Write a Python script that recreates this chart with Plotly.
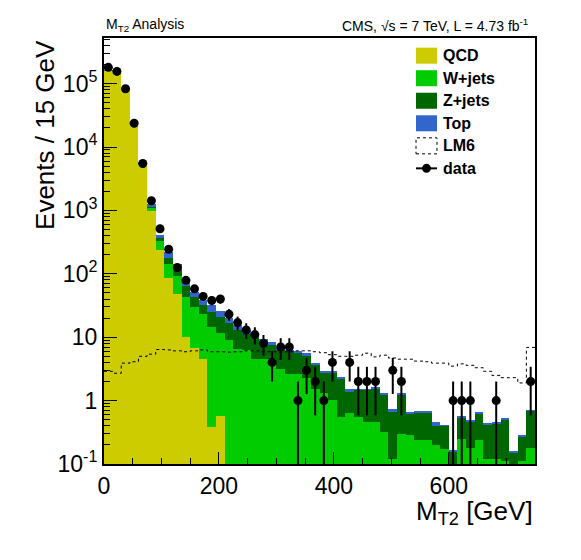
import numpy as np
import plotly.graph_objects as go

# MT2 distribution, 15 GeV bins from 0 to 750 GeV
bin_edges = np.arange(0, 751, 15)
bin_centers = bin_edges[:-1] + 7.5

qcd = [160000, 145000, 84000, 23000, 5300, 990, 237, 87, 48, 10.2,
       6.7, 4.5, 0.38, 0.58, 0, 0, 0, 0, 0, 0,
       0, 0, 0, 0, 0, 0, 0, 0, 0, 0,
       0, 0, 0, 0, 0, 0, 0, 0, 0, 0,
       0, 0, 0, 0, 0, 0, 0, 0, 0, 0]
wjets = [150, 300, 350, 350, 280, 130, 104, 56, 43, 33,
         23, 18.5, 13.9, 11.1, 9.0, 6.5, 6.4, 4.6, 4.6, 4.6,
         3.2, 2.6, 2.6, 2.3, 1.5, 1.3, 1.02, 0.56, 0.63, 0.56,
         0.46, 0.46, 0.32, 0.12, 0.30, 0.29, 0.24, 0.24, 0.20, 0.17,
         0, 0.25, 0.18, 0.24, 0.12, 0.12, 0.11, 0, 0.11, 0.18]
zjets = [40, 80, 100, 100, 80, 20, 22, 33, 25, 20,
         13, 9, 10.7, 9.3, 8, 6.5, 5.0, 5.0, 4.0, 2.9,
         3.1, 3.3, 3.2, 2.8, 2.1, 1.5, 1.78, 1.64, 0.75, 0.91,
         1.01, 1.10, 0.94, 0.56, 0.94, 0.34, 0.42, 0.42, 0.20, 0.23,
         0.153, 0.30, 0.28, 0.39, 0.30, 0.32, 0.40, 0.148, 0.16, 0.51]
top = [60, 120, 150, 160, 140, 110, 54, 43, 26, 15,
       9, 7, 7, 5, 3, 2.5, 1.6, 1.4, 0.9, 1.0,
       0.6, 0.4, 0.3, 0.5, 0.3, 0.1, 0.1, 0.1, 0.12, 0.03,
       0.03, 0.04, 0.04, 0.05, 0.04, 0.03, 0.01, 0.01, 0.06, 0.01,
       0.013, 0.01, 0.03, 0.01, 0.01, 0.01, 0.01, 0.012, 0.02, 0.01]
lm6 = [2.9, 2.7, 3.9, 4.1, 5.0, 5.4, 6.4, 6.3, 6.1, 5.9,
       6.1, 6.3, 5.9, 5.9, 5.8, 5.9, 6.1, 6.1, 5.9, 5.9,
       5.8, 5.9, 6.1, 6.1, 5.9, 5.7, 5.3, 5.0, 5.0, 5.2,
       5.6, 4.9, 5.2, 4.7, 4.5, 4.5, 4.2, 4.1, 3.9, 3.9,
       3.5, 3.8, 3.6, 3.3, 2.9, 2.5, 2.3, 2.3, 1.9, 6.9]
data = [181000, 156000, 83000, 23700, 5500, 1420, 515, 244, 126, 79,
        58, 44, 38, 40, 23, 17, 13, 11, 8, 4,
        7, 7, 1, 3, 2, 1, 4, 0, 4, 2,
        2, 2, 0, 3, 2, 0, 0, 0, 0, 0,
        1, 1, 1, 0, 0, 1, 0, 0, 0, 2]

samples = ["QCD", "W+jets", "Z+jets", "Top"]
sample_values = [qcd, wjets, zjets, top]
sample_colors = ["#cccc00", "#00cc00", "#006600", "#3366cc"]

FONT = "Liberation Sans, Arial, Helvetica, sans-serif"

fig = go.Figure()

for name, vals, col in zip(samples, sample_values, sample_colors):
    fig.add_trace(go.Bar(
        x=bin_centers, y=vals, width=15, name=name,
        marker=dict(color=col, line=dict(width=0)),
        showlegend=False,
    ))

# LM6 signal as a dotted step line
fig.add_trace(go.Scatter(
    x=bin_edges, y=lm6 + [lm6[-1]], mode="lines",
    line=dict(color="black", width=1, dash="dot", shape="hv"),
    showlegend=False,
))

# data points with poisson errors, empty bins not drawn
n = np.array(data, dtype=float)
err = np.sqrt(n)
err_lo = np.minimum(err, n * 0.999)
y_data = np.where(n > 0, n, np.nan)
fig.add_trace(go.Scatter(
    x=bin_centers, y=y_data, mode="markers",
    marker=dict(color="black", size=9),
    error_y=dict(type="data", array=err, arrayminus=err_lo,
                 color="black", thickness=2, width=0),
    showlegend=False,
))

# legend drawn by hand, ROOT style
legend_labels = ["QCD", "W+jets", "Z+jets", "Top", "LM6", "data"]
lx0, lx1, ltx = 0.7239, 0.7726, 0.7819
ly, lstep, lh = 0.9585, 0.0529, 0.0188
shapes = []
annotations = []
for i, lab in enumerate(legend_labels):
    yc = ly - i * lstep
    if i < 4:
        shapes.append(dict(type="rect", xref="paper", yref="paper",
                           x0=lx0, x1=lx1, y0=yc - lh, y1=yc + lh,
                           fillcolor=sample_colors[i], line=dict(width=0)))
    elif lab == "LM6":
        shapes.append(dict(type="rect", xref="paper", yref="paper",
                           x0=lx0, x1=lx1, y0=yc - lh, y1=yc + lh,
                           fillcolor="rgba(0,0,0,0)",
                           line=dict(color="black", width=1, dash="dot")))
    else:
        shapes.append(dict(type="line", xref="paper", yref="paper",
                           x0=lx0, x1=lx1, y0=yc, y1=yc,
                           line=dict(color="black", width=2)))
        xm = (lx0 + lx1) / 2
        shapes.append(dict(type="circle", xref="paper", yref="paper",
                           x0=xm - 0.0104, x1=xm + 0.0104,
                           y0=yc - 0.0106, y1=yc + 0.0106,
                           fillcolor="black", line=dict(width=0)))
    annotations.append(dict(text="<b>" + lab + "</b>", xref="paper", yref="paper",
                            x=ltx, y=yc, xanchor="left", yanchor="middle",
                            showarrow=False, font=dict(size=16, color="black", family=FONT)))

annotations.append(dict(text="M<sub>T2</sub> Analysis", xref="paper", yref="paper",
                        x=0, y=1.0305, xanchor="left", yanchor="middle",
                        showarrow=False, font=dict(size=14, color="black", family=FONT)))
annotations.append(dict(text="CMS, √s = 7 TeV, L = 4.73 fb<sup>-1</sup>",
                        xref="paper", yref="paper",
                        x=0.988, y=1.0305, xanchor="right", yanchor="middle",
                        showarrow=False, font=dict(size=14, color="black", family=FONT)))
annotations.append(dict(text="Events / 15 GeV", xref="paper", yref="paper",
                        x=-0.137, y=1.0, xanchor="center", yanchor="top", textangle=-90,
                        showarrow=False, font=dict(size=26, color="black", family=FONT)))
annotations.append(dict(text="M<sub>T2</sub> [GeV]", xref="paper", yref="paper",
                        x=1.0, y=-0.1127, xanchor="right", yanchor="middle",
                        showarrow=False, font=dict(size=26, color="black", family=FONT)))

y_ticks = [0.1, 1, 10, 100, 1000, 10000, 100000]
y_ticktext = ["10<sup>-1</sup>", "1", "10", "10<sup>2</sup>", "10<sup>3</sup>",
              "10<sup>4</sup>", "10<sup>5</sup>"]
y_minor = [m * 10.0 ** e for e in range(-1, 6) for m in range(2, 10)]

# page body adds an 8px offset, so the figure is sized 8px smaller
fig.update_layout(
    width=573, height=552,
    margin=dict(l=96, r=46, t=30, b=96),
    paper_bgcolor="white", plot_bgcolor="white",
    barmode="stack", bargap=0,
    font=dict(family=FONT, color="black"),
    shapes=shapes, annotations=annotations,
    xaxis=dict(range=[0, 750], showgrid=False, zeroline=False,
               showline=True, linecolor="black", linewidth=2, mirror=True,
               ticks="inside", ticklen=12, tickwidth=1, tickcolor="black",
               tickvals=[0, 200, 400, 600], tickfont=dict(size=23),
               minor=dict(ticks="inside", ticklen=6, tickwidth=1, tickcolor="black",
                          tickvals=list(range(50, 750, 50)))),
    yaxis=dict(type="log", range=[-1, 5.72], showgrid=False, zeroline=False,
               showline=True, linecolor="black", linewidth=2, mirror=True,
               ticks="inside", ticklen=13, tickwidth=1, tickcolor="black",
               tickvals=y_ticks, ticktext=y_ticktext, tickfont=dict(size=23),
               minor=dict(ticks="inside", ticklen=6, tickwidth=1, tickcolor="black",
                          tickvals=y_minor)),
)

fig.write_html("out.html")
